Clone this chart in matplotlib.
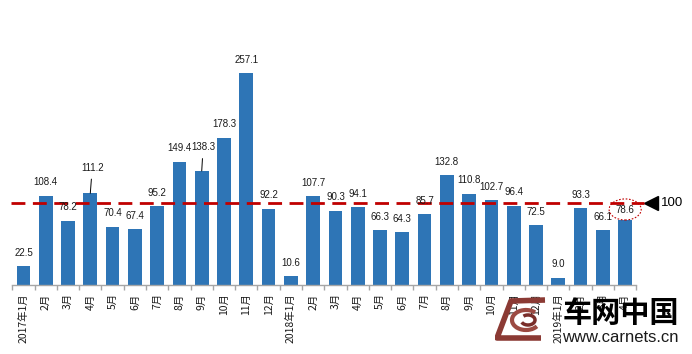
import numpy as np
import matplotlib
matplotlib.use("Agg")
import matplotlib.pyplot as plt
from matplotlib.patches import Ellipse, Polygon, Arc
from matplotlib.transforms import blended_transform_factory

plt.rcParams['font.family'] = ['Liberation Sans', 'Noto Sans CJK SC', 'DejaVu Sans']

months = ["2017年1月", "2月", "3月", "4月", "5月", "6月", "7月", "8月", "9月", "10月", "11月", "12月",
          "2018年1月", "2月", "3月", "4月", "5月", "6月", "7月", "8月", "9月", "10月", "11月", "12月",
          "2019年1月", "2月", "3月", "4月"]
values = [22.5, 108.4, 78.2, 111.2, 70.4, 67.4, 95.2, 149.4, 138.3, 178.3, 257.1, 92.2,
          10.6, 107.7, 90.3, 94.1, 66.3, 64.3, 85.7, 132.8, 110.8, 102.7, 96.4, 72.5,
          9.0, 93.3, 66.1, 78.6]
ref_level = 100

BLUE = "#2E75B6"
RED = "#C00000"
GREY = "#A6A6A6"

# label offsets in points, (dx, dy, leader line)
label_offsets = {3: (1.4, 18.3, True), 8: (1.0, 17.0, True), 27: (0.0, 7.0, False)}

fig = plt.figure(figsize=(6.92, 3.54), dpi=100)
ax = fig.add_axes([12.3 / 692, 69 / 354, 624 / 692, 247.4 / 354])

x = np.arange(len(values))
ax.bar(x, values, width=0.62, color=BLUE, zorder=2)
ax.set_xlim(-0.5, len(values) - 0.5)
ax.set_ylim(0, 300)

for i, v in enumerate(values):
    dx, dy, leader = label_offsets.get(i, (0.0, 9.7, False))
    kw = {}
    if leader:
        kw["arrowprops"] = dict(arrowstyle="-", color="black", lw=0.7, shrinkA=2.5, shrinkB=0)
    ax.annotate(f"{v:.1f}", xy=(i, v), xytext=(dx, dy), textcoords="offset points",
                ha="center", va="center", fontsize=7, color="#1a1a1a", zorder=4, **kw)

# reference line and marker
trans = blended_transform_factory(ax.transAxes, ax.transData)
ax.plot([-0.002, 1.0117], [ref_level, ref_level], transform=trans, color=RED, lw=2,
        dashes=(5, 2.7), clip_on=False, zorder=3)
ax.plot([1.0228], [ref_level], transform=trans, marker="<", markersize=9.5, color="black",
        clip_on=False, linestyle="none")
ax.text(1.0396, ref_level, "100", transform=trans, ha="left", va="center", fontsize=9.5, color="black")

# highlight last month
ax.add_patch(Ellipse((len(values) - 1, 91.6), 1.44, 25.5, fill=False, edgecolor=RED,
                     linestyle=(0, (1.5, 1.5)), lw=0.8, clip_on=False, zorder=5))

for s in ["top", "right", "left"]:
    ax.spines[s].set_visible(False)
ax.spines["bottom"].set_color(GREY)
ax.spines["bottom"].set_linewidth(1)
ax.set_yticks([])
ax.set_xticks(x)
ax.set_xticklabels(months, rotation=90, fontsize=7.5, color="#1a1a1a",
                   family=['Noto Sans CJK SC', 'DejaVu Sans'])
ax.set_xticks(np.arange(len(values) + 1) - 0.5, minor=True)
ax.tick_params(axis="x", which="major", length=0, pad=6)
ax.tick_params(axis="x", which="minor", length=3.6, color=GREY, width=1)

# watermark
lax = fig.add_axes([495 / 692, 12 / 354, 63 / 692, 45 / 354])
lax.set_xlim(0, 63)
lax.set_ylim(0, 45)
lax.axis("off")
lax.add_patch(Polygon([(50, 42), (16, 41), (2, 4), (46, 4)], closed=False, fill=False,
                      edgecolor="#8B3A34", lw=4, joinstyle="round"))
lax.add_patch(Arc((31, 22), 28, 20, theta1=40, theta2=330, edgecolor="#9C4A42", lw=3))
lax.add_patch(Arc((33, 22), 14, 10, theta1=200, theta2=140, edgecolor="#7A2E2A", lw=2.5))

fig.text(563 / 692, 1 - 313 / 354, "车网中国", fontsize=21, fontweight="bold",
         family=['Noto Sans CJK SC'], ha="left", va="center", color="black")
fig.text(562 / 692, 1 - 337 / 354, "www.carnets.cn", fontsize=12, ha="left", va="center",
         color="#1a1a1a")

fig.savefig("out.png", dpi=100)
